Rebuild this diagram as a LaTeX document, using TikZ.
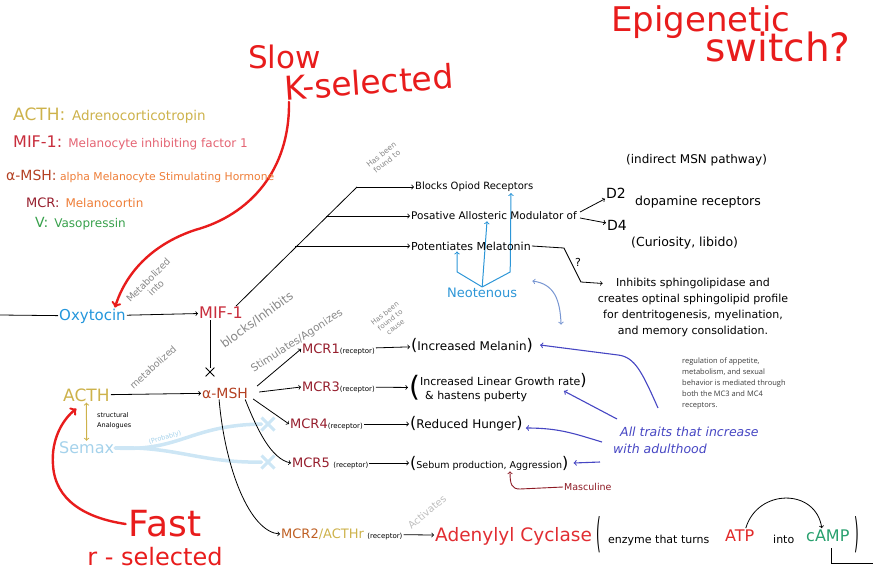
\documentclass[tikz,border=0pt]{standalone}
\usepackage{fontspec}
\setmainfont{DejaVu Sans}
\newfontfamily\printfont{Open Sans}
\usepackage{graphicx}
\usetikzlibrary{shapes.misc}
\pgfdeclarelayer{edgelayer}
\pgfdeclarelayer{nodelayer}
\pgfsetlayers{edgelayer,nodelayer,main}
\newcommand{\fsz}[2]{\fontsize{#1}{#2}\selectfont}
\newcommand{\lpar}{{\fsz{16}{16}(}}
\newcommand{\rpar}{{\fsz{16}{16})}}
\definecolor{redpen}{RGB}{232,28,28}
\definecolor{acthgold}{RGB}{205,178,75}
\definecolor{mifred}{RGB}{200,45,60}
\definecolor{mifpink}{RGB}{228,100,115}
\definecolor{mshbrown}{RGB}{180,65,35}
\definecolor{mshorange}{RGB}{238,125,55}
\definecolor{mcrred}{RGB}{150,30,45}
\definecolor{mcrtwo}{RGB}{190,95,35}
\definecolor{vgreen}{RGB}{55,160,75}
\definecolor{oxyblue}{RGB}{35,150,220}
\definecolor{neoblue}{RGB}{45,150,215}
\definecolor{steelblue}{RGB}{120,150,210}
\definecolor{traitblue}{RGB}{70,70,195}
\definecolor{semaxblue}{RGB}{165,210,235}
\definecolor{semaxpale}{RGB}{205,230,245}
\definecolor{notegray}{RGB}{135,135,135}
\definecolor{palegray}{RGB}{190,190,190}
\definecolor{printgray}{RGB}{60,60,60}
\definecolor{mascred}{RGB}{140,25,35}
\definecolor{cyclasered}{RGB}{225,45,50}
\definecolor{atpred}{RGB}{225,40,40}
\definecolor{camptea}{RGB}{40,160,110}
\tikzstyle{word}=[inner sep=1pt, anchor=west, font=\fsz{11}{14}]
\tikzstyle{note}=[inner sep=0pt, text=notegray, align=center]
\tikzstyle{edge}=[draw=black, line width=0.8pt]
\tikzstyle{arrowedge}=[draw=black, line width=0.8pt, ->]
\tikzstyle{penedge}=[draw=redpen, line width=2.4pt, ->, line cap=round]
\tikzstyle{blueedge}=[draw=traitblue, line width=1.1pt, ->]
\tikzstyle{neoedge}=[draw=neoblue, line width=1pt, ->]
\tikzstyle{steeledge}=[draw=steelblue, line width=1pt, <->]
\tikzstyle{acthedge}=[draw=acthgold, line width=1pt, <->]
\tikzstyle{mascedge}=[draw=mascred, line width=0.9pt, ->]
\tikzstyle{semaxedge}=[draw=semaxpale, line width=3.5pt, line cap=round]
\tikzstyle{xmark}=[cross out, draw=black, line width=0.8pt, minimum size=8pt, inner sep=0pt]
\tikzstyle{semaxmark}=[cross out, draw=semaxpale, line width=3pt, minimum size=10pt, inner sep=0pt]

\begin{document}
\begin{tikzpicture}[x=1pt,y=-1pt]
\useasboundingbox (0,0) rectangle (873,573);
						\begin{pgfonlayer}{nodelayer}
							\node [style=word, text=redpen, font=\fsz{34}{34}] (1) at (610,22) {Epigenetic};
							\node [style=word, text=redpen, font=\fsz{39}{39}] (2) at (704,47) {switch?};
							\node [style=word, text=redpen, font=\fsz{31}{31}] (3) at (247,57) {Slow};
							\node [style=word, text=redpen, font=\fsz{33}{33}, rotate=4] (4) at (283,88) {K-selected};
							\node [style=word, text=acthgold, font=\fsz{13.5}{15}] (5) at (12,116) {{\fsz{17}{17}ACTH:}\enspace Adrenocorticotropin};
							\node [style=word, text=mifpink, font=\fsz{12}{14}] (6) at (12,143) {{\color{mifred}\fsz{16}{16}MIF-1:}\enspace Melanocyte inhibiting factor 1};
							\node [style=word, text=mshorange, font=\fsz{10.8}{13}] (7) at (5,176) {{\color{mshbrown}\fsz{14}{14}α-MSH:} alpha Melanocyte Stimulating Hormone};
							\node [style=word, text=mshorange, font=\fsz{12}{14}] (8) at (25,203) {{\color{mcrred}\fsz{13}{13}MCR:}\enspace Melanocortin};
							\node [style=word, text=vgreen, font=\fsz{12}{14}] (9) at (34,224) {{\fsz{14}{14}V:}\enspace Vasopressin};
							\node [style=word, text=oxyblue, font=\fsz{15}{15}] (10) at (58,316) {Oxytocin};
							\node [style=word, text=mifred, font=\fsz{16}{16}] (11) at (198,313) {MIF-1};
							\node [style=word, font=\fsz{10}{12}] (12) at (414,187) {Blocks Opiod Receptors};
							\node [style=word, font=\fsz{10.5}{12}] (13) at (410,216) {Posative Allosteric Modulator of};
							\node [style=word, font=\fsz{11}{13}] (14) at (410,246) {Potentiates\ Melatonin};
							\node [style=word, font=\fsz{14}{14}] (15) at (605,193) {D2};
							\node [style=word, font=\fsz{14}{14}] (16) at (606,225) {D4};
							\node [style=word, font=\fsz{12}{14}] (17) at (625,160) {(indirect MSN pathway)};
							\node [style=word, font=\fsz{12.5}{14}] (18) at (634,202) {dopamine receptors};
							\node [style=word, font=\fsz{12.5}{14}] (19) at (630,243) {(Curiosity, libido)};
							\node [style=word, anchor=center, align=center, font=\fsz{11}{16}] (20) at (693,307) {Inhibits sphingolipidase and\\creates optinal sphingolipid profile\\for dentritogenesis, myelination,\\and memory consolidation.};
							\node [style=word, font=\fsz{11}{13}] (21) at (574,262) {?};
							\node [style=word, text=neoblue, font=\fsz{13}{13}] (22) at (446,293) {Neotenous};
							\node [style=word, text=acthgold, font=\fsz{17}{17}] (23) at (62,395) {ACTH};
							\node [style=word, text=mshbrown, font=\fsz{14}{14}] (24) at (201,393) {α-MSH};
							\node [style=xmark] (25) at (210,372) {};
							\node [style=word, align=left, font=\fsz{6.5}{10}] (26) at (96,421) {structural\\Analogues};
							\node [style=word, text=semaxblue, font=\fsz{16}{16}] (27) at (58,448) {Semax};
							\node [style=semaxmark] (28) at (268,424) {};
							\node [style=semaxmark] (29) at (268,462) {};
							\node [style=word] (30) at (301,349) {{\color{mcrred}\fsz{13}{13}MCR1}{\fsz{7}{8}(receptor)}};
							\node [style=word] (31) at (301,387) {{\color{mcrred}\fsz{13}{13}MCR3}{\fsz{7}{8}(receptor)}};
							\node [style=word] (32) at (289,424) {{\color{mcrred}\fsz{13}{13}MCR4}{\fsz{7}{8}(receptor)}};
							\node [style=word] (33) at (291,463) {{\color{mcrred}\fsz{13}{13}MCR5} {\fsz{7}{8}(receptor)}};
							\node [style=word] (34) at (280,534) {{\color{mcrtwo}\fsz{13}{13}MCR2}{\color{acthgold}\fsz{13}{13}/ACTHr} {\fsz{7}{8}(receptor)}};
							\node [style=word, font=\fsz{12}{14}] (35) at (410,345) {\lpar Increased Melanin\rpar};
							\node [style=word, align=left, font=\fsz{11}{14}] (36) at (408,388) {\smash{\raisebox{-11pt}{\fsz{28}{28}(}}Increased Linear Growth rate\rpar\\\hspace*{16pt}\& hastens puberty};
							\node [style=word, font=\fsz{12}{14}] (37) at (409,424) {\lpar Reduced Hunger\rpar};
							\node [style=word, font=\fsz{9.5}{12}] (38) at (409,463) {\lpar Sebum production, Aggression\rpar};
							\node [style=word, text=mascred, font=\fsz{9.5}{12}] (39) at (563,487) {Masculine};
							\node [style=word, text=traitblue, align=left, font=\itshape\fsz{12.5}{17}] (40) at (612,440) {\hspace*{7pt}All traits that increase\\with adulthood};
							\node [style=word, anchor=north west, align=left, text=printgray, font=\printfont\fsz{7.5}{10.9}] (41) at (681,357) {regulation of appetite,\\metabolism, and sexual\\behavior is mediated through\\both the MC3 and MC4\\receptors.};
							\node [style=word, anchor=center, text=redpen, font=\fsz{36}{36}] (42) at (165,524) {Fast};
							\node [style=word, anchor=center, text=redpen, font=\fsz{24}{24}] (43) at (155,557) {r - selected};
							\node [style=word, anchor=base west, text=cyclasered, font=\fsz{18.5}{20}] (44) at (434,541) {Adenylyl Cyclase};
							\node [style=word, anchor=base west, font=\fsz{12}{12}] (45) at (595,547) {\scalebox{1}[3.4]{(}};
							\node [style=word, anchor=base west, font=\fsz{11}{13}] (46) at (607,543) {enzyme that turns};
							\node [style=word, anchor=base west, text=atpred, font=\fsz{16}{16}] (47) at (724,541) {ATP};
							\node [style=word, anchor=base west, font=\fsz{11}{13}] (48) at (772,543) {into};
							\node [style=word, anchor=base west, text=camptea, font=\fsz{16}{16}] (49) at (805,541) {cAMP};
							\node [style=word, anchor=base west, font=\fsz{12}{12}] (50) at (853,547) {\scalebox{1}[3.4]{)}};
							\node [style=note, rotate=45, font=\fsz{9.5}{11}] (51) at (152,284) {Metabolized\\into};
							\node [style=note, rotate=36, font=\fsz{12}{13}] (52) at (257,320) {blocks/Inhibits};
							\node [style=note, rotate=42, font=\fsz{9.5}{10}] (53) at (153,367) {metabolized};
							\node [style=note, rotate=38, font=\fsz{7.5}{9}] (54) at (384,158) {Has been\\found to};
							\node [style=note, rotate=33, font=\fsz{10.5}{12}] (55) at (297,341) {Stimulates/Agonizes};
							\node [style=note, rotate=38, font=\fsz{7}{8.5}] (56) at (390,320) {Has been\\found to\\cause};
							\node [style=note, rotate=16, text=semaxblue, font=\fsz{6.5}{8}] (57) at (165,438) {(Probably)};
							\node [style=note, rotate=40, text=palegray, font=\fsz{10}{11}] (58) at (427,512) {Activates};
							\coordinate (59) at (0,315);
							\coordinate (60) at (357,187);
							\coordinate (61) at (326,216);
							\coordinate (62) at (295,246);
							\coordinate (64) at (873,563);
						\end{pgfonlayer}
						\begin{pgfonlayer}{edgelayer}
							\draw [style=edge] (59) -- (10);
							\draw [style=arrowedge] (10) -- (11);
							\draw [style=edge] ([xshift=-8pt]11.north east) -- (60);
							\draw [style=arrowedge] (60) -- (12);
							\draw [style=arrowedge] (61) -- (13);
							\draw [style=arrowedge] (62) -- (14);
							\draw [style=arrowedge] ([shift={(2,-4)}]13.east) -- (15);
							\draw [style=arrowedge] ([shift={(2,2)}]13.east) -- (16);
							\draw [style=arrowedge] (14.east) -- ++(32,2) -- ++(17,34) -- ([shift={(6,7)}]20.north west);
							\draw [style=neoedge] (22.north) -- ++(-25,-15) -- ([xshift=47pt]14.south west);
							\draw [style=neoedge] (22.north) -- ([xshift=77pt]13.south west);
							\draw [style=neoedge] (22.north) -- ++(28,-15) -- ([xshift=97pt]12.south west);
							\draw [style=steeledge] ([shift={(14,-12)}]22.east) .. controls +(22,3) and +(-1,-25) .. ([shift={(27,-12)}]35.north east);
							\draw [style=edge] (11.south -| 25) -- (25);
							\draw [style=arrowedge] (23) -- (24);
							\draw [style=acthedge] (23) -- (27);
							\draw [style=semaxedge] (27.east) .. controls (180,452) and (190,425) .. (28);
							\draw [style=semaxedge] (27.east) .. controls (175,446) and (200,463) .. (29);
							\draw [style=arrowedge] ([shift={(8,-7)}]24.east) -- (30.west);
							\draw [style=arrowedge] ([shift={(10,-1)}]24.east) -- (31.west);
							\draw [style=arrowedge] ([shift={(4,6)}]24.east) -- (32.west);
							\draw [style=arrowedge] ([shift={(-4,0)}]24.south east) .. controls +(12,30) and +(-20,-4) .. (33.west);
							\draw [style=arrowedge] ([xshift=-6pt]24.south) .. controls +(6,70) and +(-30,-2) .. (34.west);
							\draw [style=arrowedge] (30) -- (35);
							\draw [style=arrowedge] (31) -- (36);
							\draw [style=arrowedge] (32) -- (37);
							\draw [style=arrowedge] (33) -- (38);
							\draw [style=arrowedge] (34) -- (44);
							\draw [style=mascedge] (39.west) -- (520,489) .. controls (512,489) and (510,485) .. ([xshift=101pt]38.south west);
							\draw [style=blueedge] ([shift={(46,-32)}]40.west) .. controls (642,372) and (635,357) .. (618,355) -- ([xshift=6pt]35.east);
							\draw [style=blueedge] ([shift={(5,-21)}]40.west) -- ([shift={(-24,3)}]36.east);
							\draw [style=blueedge] ([shift={(-10,2)}]40.west) .. controls (575,434) and (560,428) .. ([shift={(2,4)}]37.east);
							\draw [style=blueedge] ([shift={(-12,22)}]40.west) -- ([xshift=4pt]38.east);
							\draw [style=penedge] ([xshift=5pt]4.south west) .. controls (290,170) and (250,215) .. (195,230) .. controls (150,245) and (125,275) .. ([xshift=-12pt]10.north east);
							\draw [style=penedge] ([xshift=-2pt]42.west) .. controls (85,518) and (55,500) .. (53,465) .. controls (51,440) and (62,420) .. ([shift={(-10,6)}]23.south);
							\draw [style=arrowedge] ([xshift=6pt]47.north) .. controls +(12,-40) and +(-6,-40) .. ([xshift=-6pt]49.north);
							\draw [style=edge] ([shift={(4,6)}]49.south) |- (64);
						\end{pgfonlayer}
					\end{tikzpicture}
\end{document}
